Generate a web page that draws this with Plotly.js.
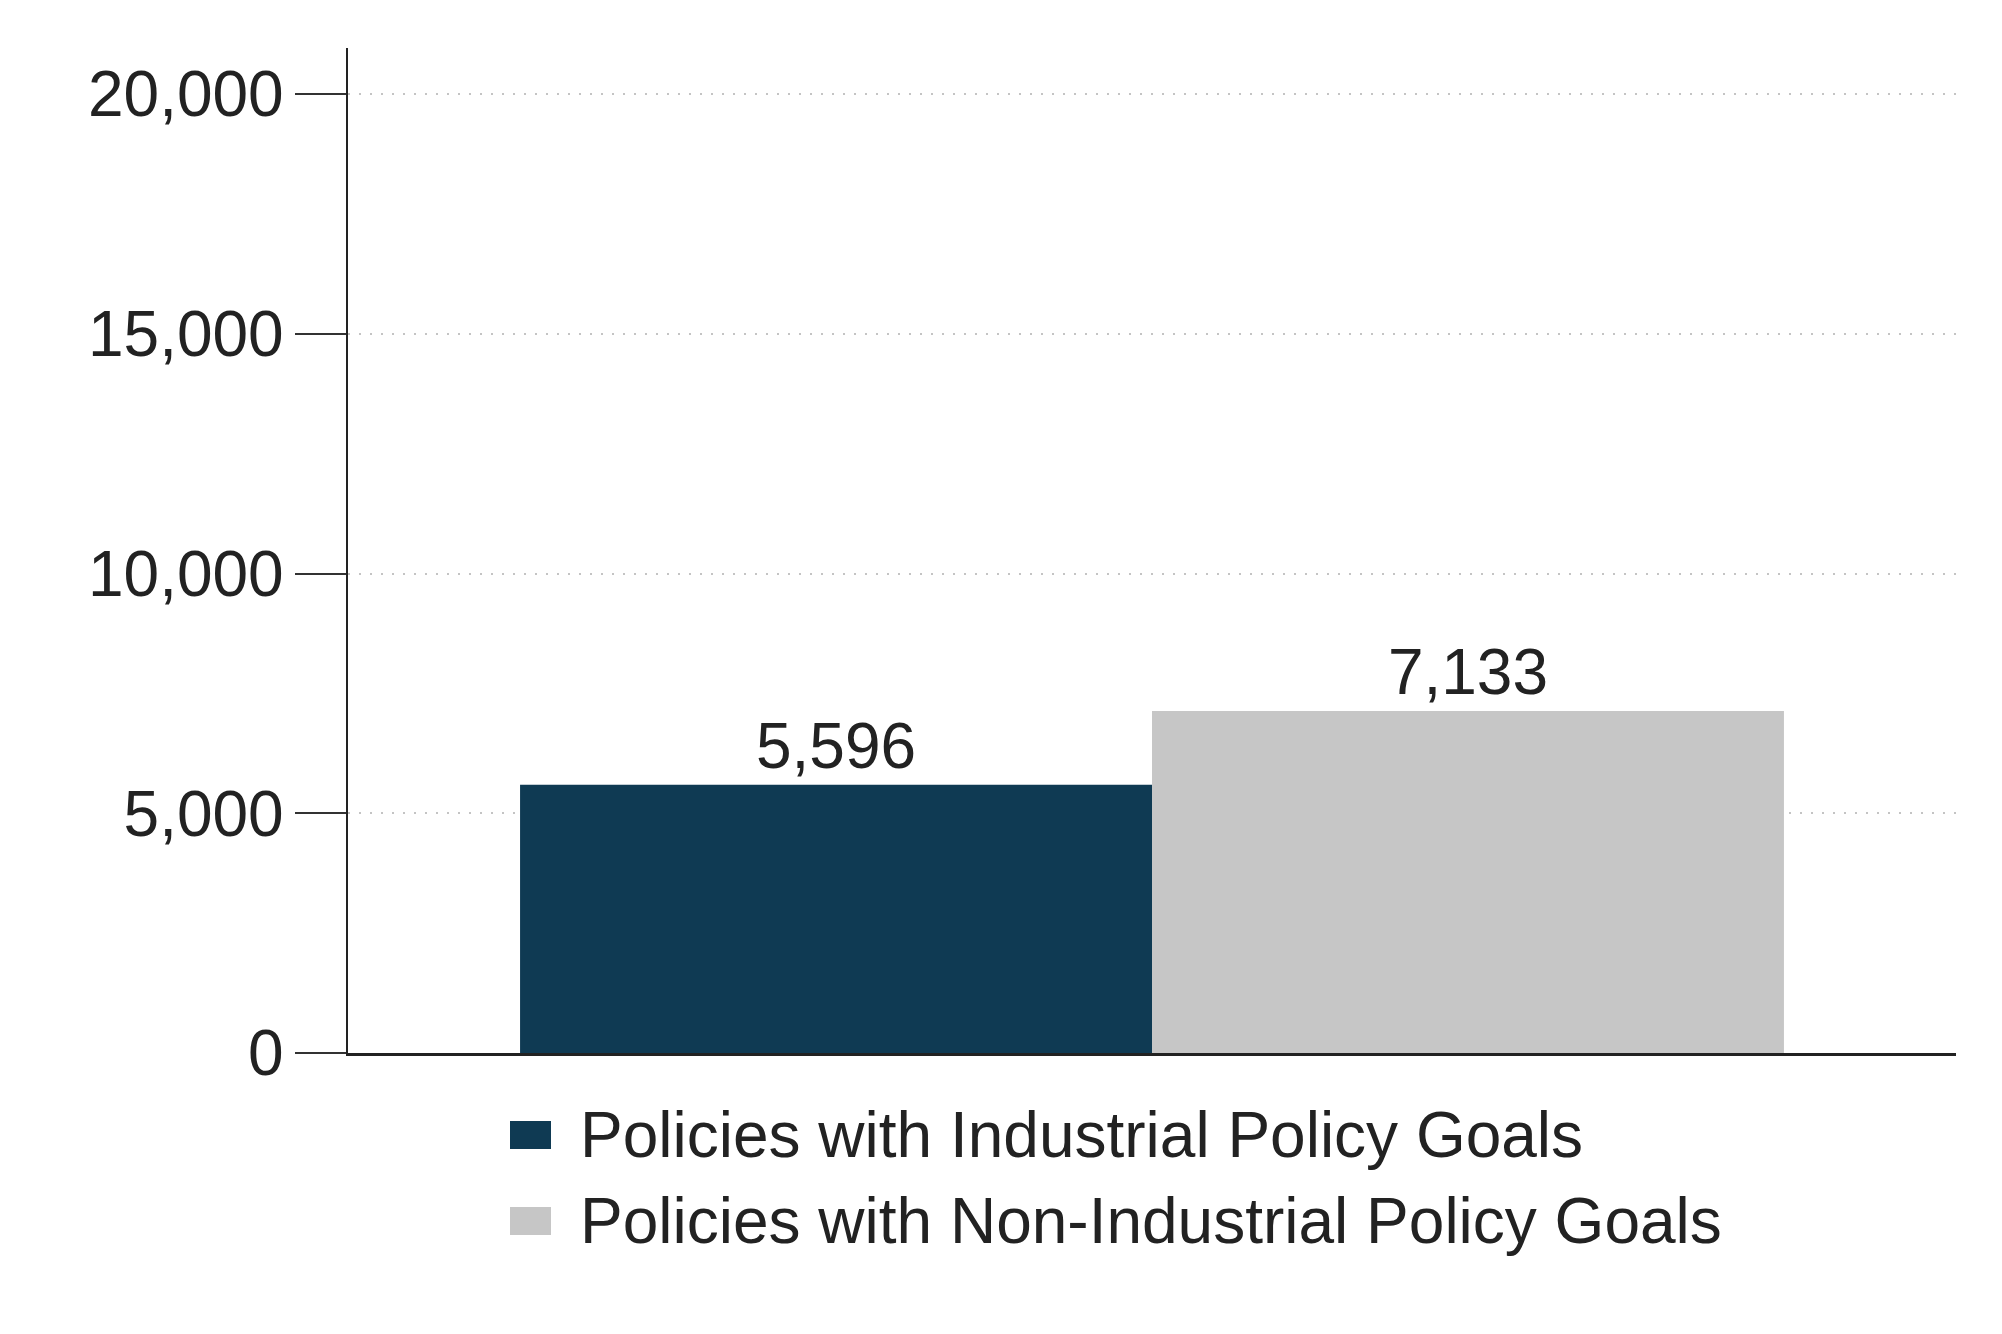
<!DOCTYPE html>
<html>
<head>
<meta charset="utf-8">
<script src="https://cdn.plot.ly/plotly-3.0.1.min.js"></script>
<style>
  html, body { margin: 0; padding: 0; background: #ffffff; }
  #chart { width: 2002px; height: 1334px; }
</style>
</head>
<body>
<div id="chart"></div>
<script>
// ---- data ----
const categories = ['Policies'];
const seriesNames = [
  'Policies with Industrial Policy Goals',
  'Policies with Non-Industrial Policy Goals'
];
const seriesValues = [5596, 7133];
const seriesColors = ['#0f3a53', '#c6c6c6'];
const yTickVals = [0, 5000, 10000, 15000, 20000];
const yTickText = ['0', '5,000', '10,000', '15,000', '20,000'];

// ---- layout constants (pixels) ----
const W = 2002, H = 1334;
const M = { l: 348, r: 46, t: 48, b: 281 };
const plotW = W - M.l - M.r;
const plotH = H - M.t - M.b;
const px2x = p => (p - M.l) / plotW;
const px2y = p => (H - M.b - p) / plotH;

const FONT = 'Liberation Sans, Arial, Helvetica, sans-serif';
const TXT = '#222222';

const traces = seriesNames.map((name, i) => ({
  type: 'bar',
  name: name,
  x: categories,
  y: [seriesValues[i]],
  marker: { color: seriesColors[i], line: { width: 0 } },
  texttemplate: '%{y:,.0f}',
  textposition: 'outside',
  textfont: { family: FONT, size: 64, color: TXT },
  cliponaxis: false,
  hoverinfo: 'skip',
  showlegend: false
}));

// custom legend: keys + labels
const legendShapes = [];
const legendAnns = [];
const keyTop = [1121, 1207];
seriesNames.forEach((name, i) => {
  legendShapes.push({
    type: 'rect', xref: 'paper', yref: 'paper',
    x0: px2x(510), x1: px2x(551),
    y0: px2y(keyTop[i] + 28), y1: px2y(keyTop[i]),
    fillcolor: seriesColors[i], line: { width: 0 }, layer: 'above'
  });
  legendAnns.push({
    xref: 'paper', yref: 'paper',
    x: px2x(578), y: px2y(keyTop[i] + 14),
    xanchor: 'left', yanchor: 'middle',
    text: name, showarrow: false,
    font: { family: FONT, size: 64, color: TXT }
  });
});

const layout = {
  width: W, height: H,
  margin: M,
  paper_bgcolor: '#ffffff',
  plot_bgcolor: '#ffffff',
  font: { family: FONT, size: 64, color: TXT },
  barmode: 'group',
  bargap: 0.214,
  bargroupgap: 0,
  showlegend: false,
  xaxis: {
    type: 'category',
    range: [-0.5, 0.5],
    showticklabels: false,
    ticks: '',
    showgrid: false,
    zeroline: false,
    showline: true,
    linecolor: '#222222',
    linewidth: 2.5,
    fixedrange: true
  },
  yaxis: {
    range: [0, 20960],
    tickvals: yTickVals,
    ticktext: yTickText,
    ticks: 'outside',
    ticklen: 51,
    tickwidth: 2,
    tickcolor: '#333333',
    ticklabelstandoff: -2,
    tickfont: { family: FONT, size: 64, color: TXT },
    showgrid: true,
    gridcolor: '#c4c4c4',
    gridwidth: 2,
    griddash: '2px,9px',
    zeroline: false,
    showline: true,
    linecolor: '#222222',
    linewidth: 2.5,
    fixedrange: true
  },
  shapes: legendShapes,
  annotations: legendAnns
};

Plotly.newPlot('chart', traces, layout, { displayModeBar: false, staticPlot: true });
</script>
</body>
</html>
